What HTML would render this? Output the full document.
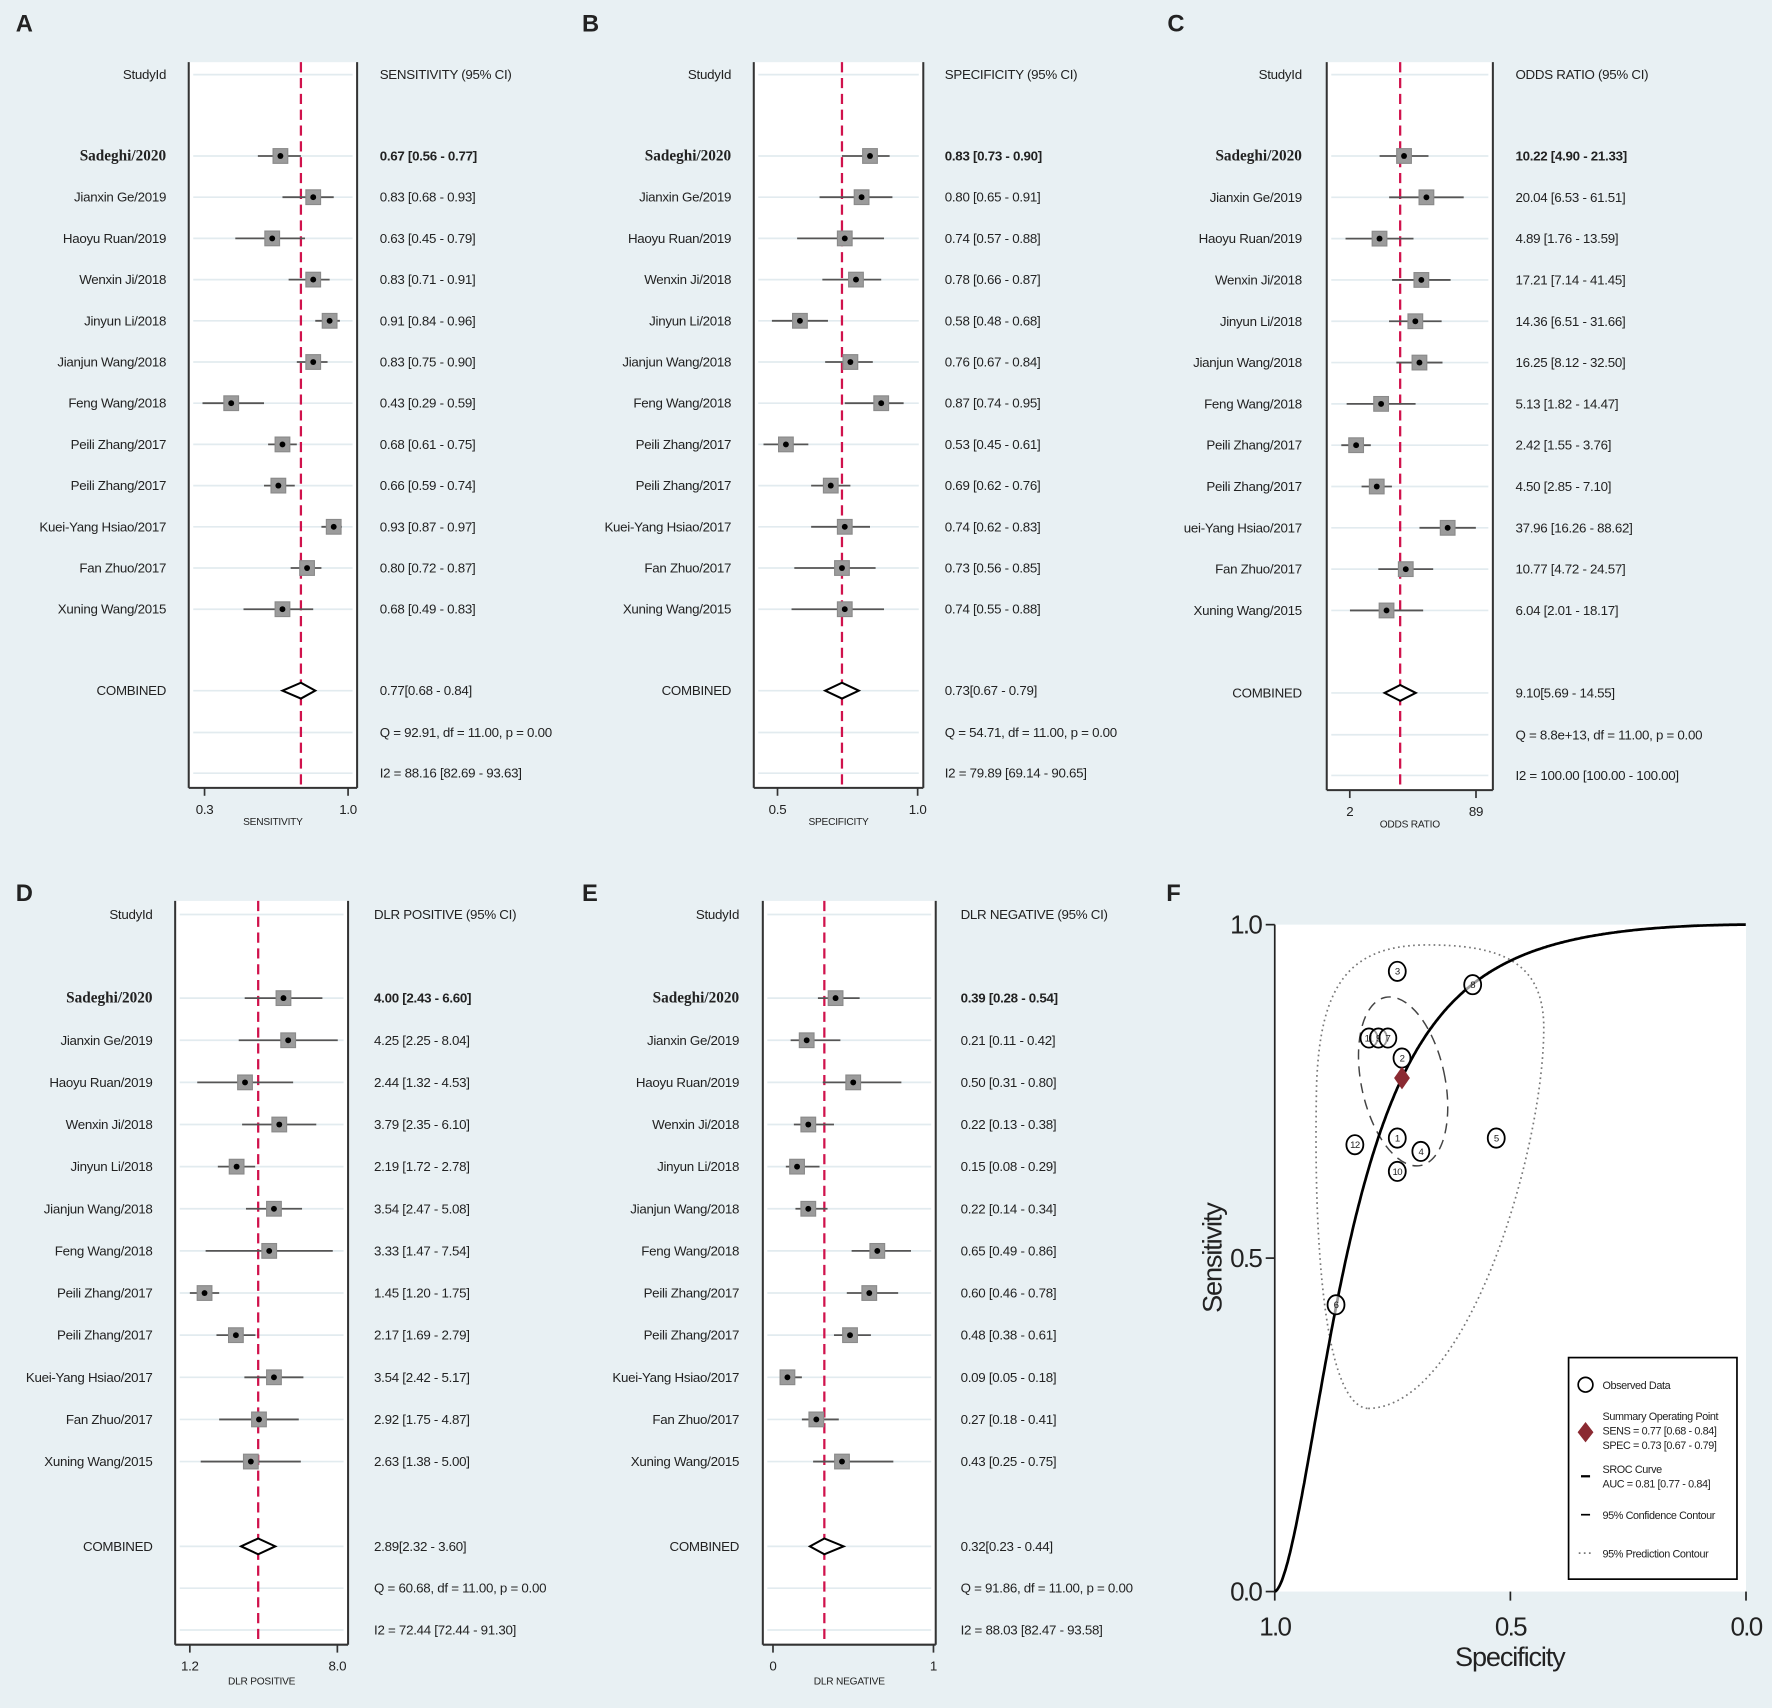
<!DOCTYPE html>
<html><head><meta charset="utf-8"><style>
html,body{margin:0;padding:0;background:#e8f0f3;}
svg{display:block;}
text{font-family:"Liberation Sans Narrow","Liberation Sans",sans-serif;fill:#222;}
</style></head><body>
<svg id="fig" xmlns="http://www.w3.org/2000/svg" width="1772" height="1708" viewBox="0 0 1568 1511" preserveAspectRatio="none">
<rect x="0" y="0" width="1568" height="1511" fill="#e8f0f3"/>
</svg>
<script>
const studies = ["Sadeghi/2020","Jianxin Ge/2019","Haoyu Ruan/2019","Wenxin Ji/2018","Jinyun Li/2018","Jianjun Wang/2018","Feng Wang/2018","Peili Zhang/2017","Peili Zhang/2017","Kuei-Yang Hsiao/2017","Fan Zhuo/2017","Xuning Wang/2015"];
const studiesC = ["Sadeghi/2020","Jianxin Ge/2019","Haoyu Ruan/2019","Wenxin Ji/2018","Jinyun Li/2018","Jianjun Wang/2018","Feng Wang/2018","Peili Zhang/2017","Peili Zhang/2017","uei-Yang Hsiao/2017","Fan Zhuo/2017","Xuning Wang/2015"];
const sens = [0.67,0.83,0.63,0.83,0.91,0.83,0.43,0.68,0.66,0.93,0.80,0.68];
const sensLo = [0.56,0.68,0.45,0.71,0.84,0.75,0.29,0.61,0.59,0.87,0.72,0.49];
const sensHi = [0.77,0.93,0.79,0.91,0.96,0.90,0.59,0.75,0.74,0.97,0.87,0.83];
const spec = [0.83,0.80,0.74,0.78,0.58,0.76,0.87,0.53,0.69,0.74,0.73,0.74];
const specLo = [0.73,0.65,0.57,0.66,0.48,0.67,0.74,0.45,0.62,0.62,0.56,0.55];
const specHi = [0.90,0.91,0.88,0.87,0.68,0.84,0.95,0.61,0.76,0.83,0.85,0.88];
const dor = [10.22,20.04,4.89,17.21,14.36,16.25,5.13,2.42,4.50,37.96,10.77,6.04];
const dorLo = [4.90,6.53,1.76,7.14,6.51,8.12,1.82,1.55,2.85,16.26,4.72,2.01];
const dorHi = [21.33,61.51,13.59,41.45,31.66,32.50,14.47,3.76,7.10,88.62,24.57,18.17];
const plr = [4.00,4.25,2.44,3.79,2.19,3.54,3.33,1.45,2.17,3.54,2.92,2.63];
const plrLo = [2.43,2.25,1.32,2.35,1.72,2.47,1.47,1.20,1.69,2.42,1.75,1.38];
const plrHi = [6.60,8.04,4.53,6.10,2.78,5.08,7.54,1.75,2.79,5.17,4.87,5.00];
const nlr = [0.39,0.21,0.50,0.22,0.15,0.22,0.65,0.60,0.48,0.09,0.27,0.43];
const nlrLo = [0.28,0.11,0.31,0.13,0.08,0.14,0.49,0.46,0.38,0.05,0.18,0.25];
const nlrHi = [0.54,0.42,0.80,0.38,0.29,0.34,0.86,0.78,0.61,0.18,0.41,0.75];
const combSens = [0.77,0.68,0.84];
const combSpec = [0.73,0.67,0.79];
const combDor = [9.10,5.69,14.55];
const combPlr = [2.89,2.32,3.60];
const combNlr = [0.32,0.23,0.44];
const ticksA = [0.3,1.0];
const ticksB = [0.5,1.0];
const ticksC = [2,89];
const ticksD = [1.2,8.0];
const ticksE = [0,1];
const tickLabelsA = ["0.3","1.0"];
const tickLabelsB = ["0.5","1.0"];
const tickLabelsC = ["2","89"];
const tickLabelsD = ["1.2","8.0"];
const tickLabelsE = ["0","1"];
const sroc = [2.86,1.66];
const srocTicks = [1.0,0.5,0.0];
const srocTickLabels = ["1.0","0.5","0.0"];

const NS="http://www.w3.org/2000/svg";
const svg=document.getElementById('fig');
function mk(tag,attrs,parent){const e=document.createElementNS(NS,tag);for(const k in attrs)e.setAttribute(k,attrs[k]);(parent||svg).appendChild(e);return e;}
function txt(x,y,s,attrs,parent){const t=mk('text',Object.assign({x:x,y:y},attrs||{}),parent);t.textContent=s;return t;}
function f2(v){return v.toFixed(2);}
const FS={'font-size':11.8,'letter-spacing':-0.25};
function fs(extra){return Object.assign({},FS,extra||{});}

function linScale(v0,p0,v1,p1){return v=>p0+(v-v0)*(p1-p0)/(v1-v0);}
function logScale(v0,p0,v1,p1){return v=>p0+(Math.log(v)-Math.log(v0))*(p1-p0)/(Math.log(v1)-Math.log(v0));}

function forest(c){
  const g=mk('g',{});
  
  
  const L=txt(c.letterX,c.letterY,c.letter,{'font-size':21,'font-weight':'bold',style:'font-family:"Liberation Sans",sans-serif',fill:'#000'},g);
  
  
  const clipId='clip'+c.letter;
  const cp=mk('clipPath',{id:clipId},g);mk('rect',{x:c.boxL,y:c.top,width:c.boxR-c.boxL,height:c.bot-c.top},cp);
  const box=mk('rect',{x:c.boxL,y:c.top,width:c.boxR-c.boxL,height:c.bot-c.top,fill:'#fff'},g);
  
  
  const rowsY=[c.header];for(let i=0;i<c.vals.length;i++)rowsY.push(c.row0+i*c.step);rowsY.push(c.comb,c.q,c.i2);
  rowsY.forEach(y=>{const gl=mk('line',{x1:c.boxL+4,x2:c.boxR-4,y1:y,y2:y,stroke:'#e2ebef','stroke-width':1.5},g);});
  mk('line',{x1:c.boxL,x2:c.boxL,y1:c.top,y2:c.bot,stroke:'#333','stroke-width':1.8},g);
  mk('line',{x1:c.boxR,x2:c.boxR,y1:c.top,y2:c.bot,stroke:'#333','stroke-width':1.8},g);
  mk('line',{x1:c.boxL,x2:c.boxR,y1:c.bot,y2:c.bot,stroke:'#333','stroke-width':1.8},g);
  const s=c.scale;
  const pl=mk('line',{x1:s(c.combV[0]),x2:s(c.combV[0]),y1:c.top,y2:c.bot,stroke:'#d0124c','stroke-width':2,'stroke-dasharray':'9,5'},g);
  
  
  const h=txt(c.labelR,c.header+4,'StudyId',fs({'text-anchor':'end'}),g);
  
  
  const hv=txt(c.valX,c.header+4,c.header2,fs(),g);
  
  
  const mg=mk('g',{'clip-path':'url(#'+clipId+')'},g);
  for(let i=0;i<c.vals.length;i++){
    const y=c.row0+i*c.step;
    const lab=txt(c.labelR,y+4,c.labels[i],i===0?{'text-anchor':'end','font-size':13.5,'font-weight':'bold',style:'font-family:"Liberation Serif",serif'}:fs({'text-anchor':'end'}),g);
    
    
    const ci=mk('line',{x1:s(c.lo[i]),x2:s(c.hi[i]),y1:y,y2:y,stroke:'#555','stroke-width':1.6},mg);
    
    
    const sq=mk('rect',{x:s(c.vals[i])-6.5,y:y-6.5,width:13,height:13,fill:'#9b9b9b',stroke:'#8a8a8a'},mg);
    
    
    const pt=mk('circle',{cx:s(c.vals[i]),cy:y,r:2.6,fill:'#000'},mg);
    
    
    const v=txt(c.valX,y+4,f2(c.vals[i])+' ['+f2(c.lo[i])+' - '+f2(c.hi[i])+']',i===0?fs({'font-weight':'bold'}):fs(),g);
    
    
  }
  const cl=txt(c.labelR,c.comb+4,'COMBINED',fs({'text-anchor':'end'}),g);
  
  
  const x0=s(c.combV[1]),xm=s(c.combV[0]),x1=s(c.combV[2]),yc=c.comb;
  const dm=mk('polygon',{points:x0+','+yc+' '+xm+','+(yc-7)+' '+x1+','+yc+' '+xm+','+(yc+7),fill:'#fff',stroke:'#000','stroke-width':1.8},g);
  
  
  const cv=txt(c.valX,c.comb+4,f2(c.combV[0])+'['+f2(c.combV[1])+' - '+f2(c.combV[2])+']',fs(),g);
  
  
  const qt=txt(c.valX,c.q+4,c.qText,fs(),g);
  
  
  const it=txt(c.valX,c.i2+4,c.i2Text,fs(),g);
  
  
  c.ticks.forEach((t,k)=>{
    const tx=s(t);
    const tk=mk('line',{x1:tx,x2:tx,y1:c.bot,y2:c.bot+7,stroke:'#333','stroke-width':1.5},g);
    
    
    const tl=txt(tx,c.tickY+4,c.tickLabels[k],fs({'text-anchor':'middle'}),g);
    
    
  });
  const at=txt((c.boxL+c.boxR)/2,c.titleY+3,c.title,{'text-anchor':'middle','font-size':9,'letter-spacing':-0.2},g);
  
  
}

const topRows={top:55,bot:697,header:66,row0:138,step:36.45,comb:611,q:648,i2:684,tickY:716,titleY:727,letterY:28};
const botRows={top:797,bot:1455,header:809,row0:883,step:37.27,comb:1368,q:1405,i2:1442,tickY:1474,titleY:1487,letterY:797};

forest(Object.assign({},topRows,{name:'forest-sensitivity',letter:'A',letterX:14,labelR:147,boxL:167,boxR:316,valX:336,
  header2:'SENSITIVITY (95% CI)',labels:studies,vals:sens,lo:sensLo,hi:sensHi,combV:combSens,
  scale:linScale(0.3,181,1.0,308),ticks:ticksA,tickLabels:tickLabelsA,title:'SENSITIVITY',
  qText:'Q = 92.91, df = 11.00, p =  0.00',i2Text:'I2 = 88.16 [82.69 - 93.63]'}));
forest(Object.assign({},topRows,{name:'forest-specificity',letter:'B',letterX:515,labelR:647,boxL:667,boxR:817,valX:836,
  header2:'SPECIFICITY (95% CI)',labels:studies,vals:spec,lo:specLo,hi:specHi,combV:combSpec,
  scale:linScale(0.5,688,1.0,812),ticks:ticksB,tickLabels:tickLabelsB,title:'SPECIFICITY',
  qText:'Q = 54.71, df = 11.00, p =  0.00',i2Text:'I2 = 79.89 [69.14 - 90.65]'}));
forest(Object.assign({},topRows,{name:'forest-odds-ratio',letter:'C',letterX:1033,labelR:1152,boxL:1174,boxR:1321,valX:1341,
  bot:699,step:36.55,comb:613,q:650,i2:686,tickY:718,titleY:729,
  header2:'ODDS RATIO (95% CI)',labels:studiesC,vals:dor,lo:dorLo,hi:dorHi,combV:combDor,
  scale:logScale(2.42,1200,37.96,1281),ticks:ticksC,tickLabels:tickLabelsC,title:'ODDS RATIO',
  qText:'Q = 8.8e+13, df = 11.00, p =  0.00',i2Text:'I2 = 100.00 [100.00 - 100.00]'}));
forest(Object.assign({},botRows,{name:'forest-dlr-positive',letter:'D',letterX:14,labelR:135,boxL:155,boxR:308,valX:331,
  header2:'DLR POSITIVE (95% CI)',labels:studies,vals:plr,lo:plrLo,hi:plrHi,combV:combPlr,
  scale:logScale(1.45,181,4.25,255),ticks:ticksD,tickLabels:tickLabelsD,title:'DLR POSITIVE',
  qText:'Q = 60.68, df = 11.00, p =  0.00',i2Text:'I2 = 72.44 [72.44 - 91.30]'}));
forest(Object.assign({},botRows,{name:'forest-dlr-negative',letter:'E',letterX:515,labelR:654,boxL:675,boxR:828,valX:850,
  header2:'DLR NEGATIVE (95% CI)',labels:studies,vals:nlr,lo:nlrLo,hi:nlrHi,combV:combNlr,
  scale:linScale(0,684,1,826),ticks:ticksE,tickLabels:tickLabelsE,title:'DLR NEGATIVE',
  qText:'Q = 91.86, df = 11.00, p =  0.00',i2Text:'I2 = 88.03 [82.47 - 93.58]'}));

// ---- Panel F: SROC ----
(function(){
  const g=mk('g',{});
  
  
  const L=txt(1032,797,'F',{'font-size':21,'font-weight':'bold',style:'font-family:"Liberation Sans",sans-serif',fill:'#000'},g);
  
  
  const X0=1128,X1=1545,Y0=1408,Y1=818;
  const sx=sp=>X0+(1-sp)*(X1-X0);
  const sy=se=>Y0-se*(Y0-Y1);
  const pa=mk('rect',{x:X0,y:Y1,width:X1-X0,height:Y0-Y1,fill:'#fff'},g);
  
  
  const ya=mk('line',{x1:X0,x2:X0,y1:Y1,y2:Y0,stroke:'#222','stroke-width':1.5},g);
  
  
  srocTicks.forEach((t,k)=>{
    const yt=mk('line',{x1:X0-8,x2:X0,y1:sy(t),y2:sy(t),stroke:'#222','stroke-width':1.5},g);
    
    
    const yl=txt(X0-12,sy(t)+8,srocTickLabels[k],{'text-anchor':'end','font-size':23,'letter-spacing':-1.5},g);
    
    
    const xt=mk('line',{x1:sx(t),x2:sx(t),y1:Y0,y2:Y0+8,stroke:'#222','stroke-width':1.5},g);
    
    
    const xl=txt(sx(t),1447,srocTickLabels[k],{'text-anchor':'middle','font-size':23,'letter-spacing':-1.5},g);
    
    
  });
  const xa=txt(1336,1474,'Specificity',{'text-anchor':'middle','font-size':24,'letter-spacing':-1},g);
  
  
  const yat=txt(0,0,'Sensitivity',{'text-anchor':'middle','font-size':24,'letter-spacing':-1,transform:'translate(1081,1113) rotate(-90)'},g);
  
  
  const pc=mk('path',{d:'M1210,1246 C1172,1242 1162,1100 1165,960 C1168,870 1195,838 1258,836 C1330,835 1364,852 1366,905 C1368,1010 1300,1246 1210,1246 Z',fill:'none',stroke:'#777','stroke-width':1.5,'stroke-dasharray':'1.5,3'},g);
  
  
  const cc=mk('ellipse',{cx:sx(combSpec[0])+1,cy:sy(combSens[0])+3,rx:37,ry:76,transform:'rotate(-12 '+(sx(combSpec[0])+1)+' '+(sy(combSens[0])+3)+')',fill:'none',stroke:'#444','stroke-width':1.3,'stroke-dasharray':'9,6'},g);
  
  
  let d='';
  for(let i=0;i<=400;i++){
    const f=Math.max(0.0005,Math.min(0.9995,i/400));
    const lf=Math.log(f/(1-f));
    const ls=sroc[0]+sroc[1]*lf;
    const se=1/(1+Math.exp(-ls));
    d+=(i?'L':'M')+sx(1-f).toFixed(1)+','+sy(se).toFixed(1);
  }
  const cu=mk('path',{d:d,fill:'none',stroke:'#000','stroke-width':2.4},g);
  
  
  const n=sens.length;
  for(let i=0;i<n;i++){
    const cx=sx(spec[i]),cy=sy(sens[i]);
    const c=mk('ellipse',{cx:cx,cy:cy,rx:7.5,ry:8.5,fill:'#fff','fill-opacity':0.6,stroke:'#000','stroke-width':1.6},g);
    
    
    const t=txt(cx,cy+3,String(n-i),{'text-anchor':'middle','font-size':8.5,'letter-spacing':-0.5},g);
    
    
  }
  const px=sx(combSpec[0]),py=sy(combSens[0]);
  const sd=mk('polygon',{points:(px-7)+','+py+' '+px+','+(py-10)+' '+(px+7)+','+py+' '+px+','+(py+10),fill:'#8b2a32'},g);
  
  
  const lg=mk('g',{},g);
  
  
  mk('rect',{x:1388,y:1201,width:149,height:196,fill:'#fff',stroke:'#000','stroke-width':1.5},lg);
  mk('circle',{cx:1403,cy:1225,r:6.5,fill:'#fff',stroke:'#000','stroke-width':1.5},lg);
  const lf={'font-size':9.6,'letter-spacing':-0.35};
  let e=txt(1418,1229,'Observed Data',lf,lg);
  
  
  mk('polygon',{points:'1396,1267 1403,1258 1410,1267 1403,1276',fill:'#8b2a32'},lg);
  e=txt(1418,1256,'Summary Operating Point',lf,lg);
  
  
  txt(1418,1269,'SENS = 0.77 [0.68 - 0.84]',lf,lg);
  txt(1418,1282,'SPEC = 0.73 [0.67 - 0.79]',lf,lg);
  mk('line',{x1:1399,x2:1407,y1:1306,y2:1306,stroke:'#000','stroke-width':2},lg);
  e=txt(1418,1303,'SROC Curve',lf,lg);
  
  
  txt(1418,1316,'AUC = 0.81 [0.77 - 0.84]',lf,lg);
  mk('line',{x1:1399,x2:1407,y1:1340,y2:1340,stroke:'#000','stroke-width':1.5},lg);
  e=txt(1418,1344,'95% Confidence Contour',lf,lg);
  
  
  mk('line',{x1:1397,x2:1409,y1:1374,y2:1374,stroke:'#777','stroke-width':1.5,'stroke-dasharray':'1.5,3'},lg);
  e=txt(1418,1378,'95% Prediction Contour',lf,lg);
  
  
})();
</script>
</body></html>
